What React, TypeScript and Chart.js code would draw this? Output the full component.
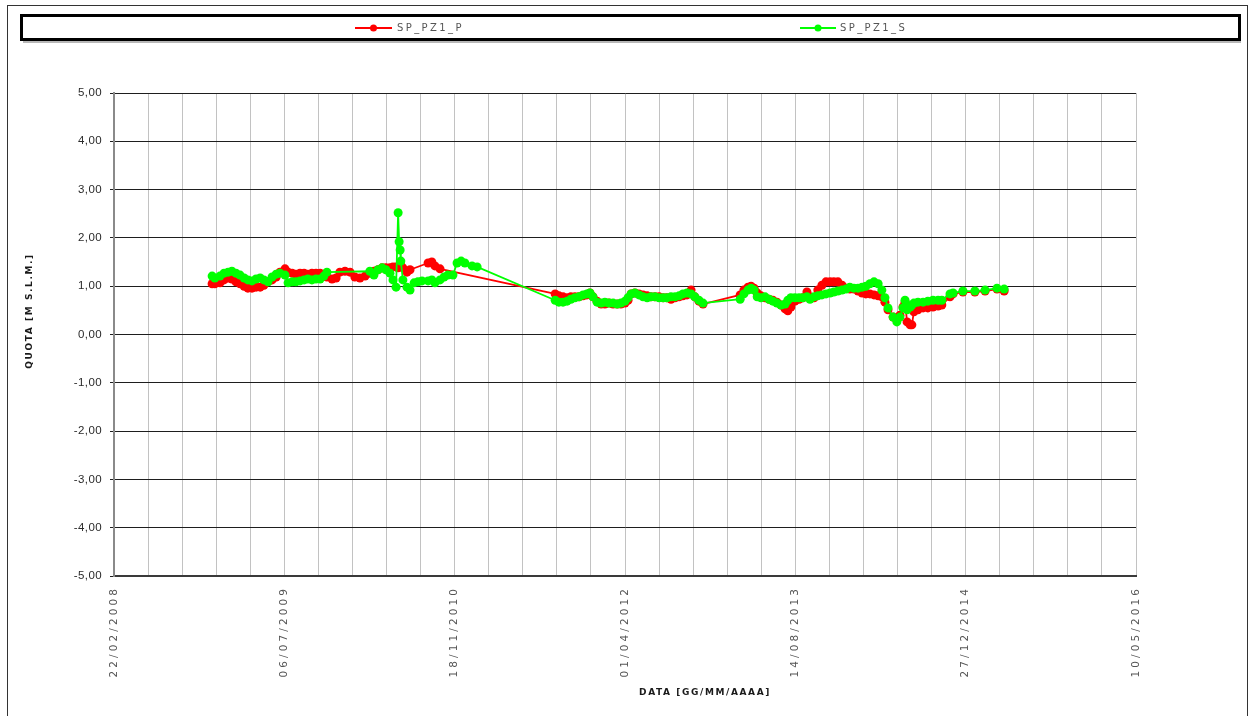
import React, { useEffect, useRef } from "react";
import { Chart, registerables } from "chart.js";

Chart.register(...registerables);

// ---------- DATA ----------
const dates: string[] = [
  // 2008 - 2011
  "2008-12-06","2008-12-14","2008-12-29","2009-01-10","2009-01-22","2009-02-02","2009-02-14","2009-02-26","2009-03-10","2009-03-21",
  "2009-04-02","2009-04-14","2009-04-26","2009-05-07","2009-05-19","2009-05-31","2009-06-12","2009-06-23","2009-07-08","2009-07-17",
  "2009-07-29","2009-08-09","2009-08-21","2009-09-02","2009-09-13","2009-09-25","2009-10-07","2009-10-19","2009-10-30","2009-11-08",
  "2009-11-23","2009-12-05","2009-12-16","2009-12-31","2010-01-15","2010-01-29","2010-02-13","2010-02-28","2010-03-14","2010-03-26",
  "2010-04-07","2010-04-19","2010-04-30","2010-05-12","2010-05-21","2010-05-30","2010-06-05","2010-06-08","2010-06-11","2010-06-13",
  "2010-06-19","2010-07-01","2010-07-10","2010-07-22","2010-08-02","2010-08-14","2010-09-01","2010-09-12","2010-09-21","2010-10-06",
  "2010-10-18","2010-10-29","2010-11-13","2010-11-25","2010-12-07","2010-12-18","2011-01-08","2011-01-23",
  // 2011 - 2012
  "2011-09-09","2011-09-20","2011-10-02","2011-10-14","2011-10-25","2011-11-06","2011-11-18","2011-11-30","2011-12-11","2011-12-20",
  "2011-12-29","2012-01-10","2012-01-22","2012-02-02","2012-02-14","2012-02-26","2012-03-09","2012-03-20","2012-04-01","2012-04-10",
  "2012-04-19","2012-04-30","2012-05-12","2012-05-24","2012-06-05","2012-06-16","2012-06-28","2012-07-10","2012-07-22","2012-08-02",
  "2012-08-14","2012-08-26","2012-09-07","2012-09-18","2012-09-30","2012-10-12","2012-10-23","2012-11-04","2012-11-16",
  // 2013 - 2015
  "2013-03-05","2013-03-16","2013-03-28","2013-04-06","2013-04-15","2013-04-24","2013-05-05","2013-05-17","2013-05-29","2013-06-09",
  "2013-06-21","2013-07-03","2013-07-15","2013-07-23","2013-08-01","2013-08-13","2013-08-25","2013-09-05","2013-09-17","2013-09-26",
  "2013-10-08","2013-10-19","2013-10-31","2013-11-12","2013-11-24","2013-12-05","2013-12-17","2013-12-29","2014-01-10","2014-01-21",
  "2014-02-02","2014-02-14","2014-02-26","2014-03-09","2014-03-21","2014-04-02","2014-04-14","2014-04-25","2014-05-04","2014-05-13",
  "2014-05-28","2014-06-08","2014-06-17","2014-06-26","2014-07-02","2014-07-08","2014-07-17","2014-07-22","2014-07-28","2014-08-09",
  "2014-08-24","2014-09-07","2014-09-22","2014-10-07","2014-10-18","2014-11-11","2014-11-20","2014-12-19","2015-01-23","2015-02-22",
  "2015-03-29","2015-04-19",
];

const spPz1P: (number | null)[] = [
  1.05,1.05,1.07,1.13,1.17,1.15,1.09,1.05,1.00,0.96,
  0.96,0.98,0.98,1.02,1.09,1.13,1.19,1.29,1.36,1.29,
  1.27,1.25,1.27,1.27,1.25,1.27,1.27,1.27,1.25,1.19,
  1.15,1.17,1.29,1.31,1.29,1.19,1.17,1.21,1.27,1.31,
  1.34,1.38,1.38,1.38,1.40,1.40,1.38,1.42,1.44,1.42,
  1.38,1.29,1.34,null,null,null,1.48,1.50,1.42,1.36,
  null,null,null,null,null,null,null,null,
  0.84,0.80,0.78,0.76,0.78,0.78,0.78,0.80,0.82,0.86,
  0.78,0.69,0.63,0.63,0.65,0.63,0.63,0.63,0.65,0.71,
  0.84,0.86,0.84,0.82,0.80,0.78,0.78,0.78,0.76,0.76,
  0.73,0.76,0.78,0.80,0.82,0.92,0.78,0.69,0.63,
  0.82,0.92,0.98,1.00,0.96,0.86,0.80,0.76,0.73,0.71,
  0.67,0.61,0.53,0.49,0.57,0.69,0.73,0.76,0.88,0.78,
  0.76,0.92,1.02,1.09,1.09,1.09,1.09,1.02,0.96,0.94,
  0.94,0.90,0.86,0.84,0.84,0.82,0.80,0.78,0.67,0.51,
  0.36,0.30,0.40,0.57,0.67,0.26,0.20,0.20,0.47,0.51,
  0.55,0.55,0.57,0.59,0.61,0.78,0.84,0.88,0.88,0.90,
  0.94,0.90,
];

const spPz1S: (number | null)[] = [
  1.21,1.17,1.21,1.27,1.29,1.31,1.27,1.23,1.17,1.13,
  1.11,1.15,1.17,1.13,1.09,1.19,1.25,1.27,1.23,1.07,
  1.09,1.09,1.11,1.13,1.15,1.13,1.15,1.15,1.21,1.29,
  null,null,null,null,null,null,null,null,1.31,1.23,
  1.34,1.38,1.34,1.27,1.13,0.98,2.52,1.92,1.75,1.52,
  1.13,0.98,0.92,1.07,1.09,1.11,1.11,1.13,1.07,1.13,
  1.19,1.23,1.23,1.48,1.52,1.48,1.42,1.40,
  0.71,0.67,0.67,0.69,0.73,0.76,0.78,0.82,0.84,0.86,
  0.78,0.67,0.65,0.67,0.65,0.65,0.63,0.65,0.69,0.76,
  0.84,0.86,0.82,0.78,0.76,0.78,0.78,0.76,0.76,0.76,
  0.78,0.78,0.80,0.84,0.86,0.84,0.78,0.71,0.65,
  0.73,0.84,0.92,0.96,0.92,0.78,0.76,0.78,0.73,0.69,
  0.65,0.61,0.63,0.71,0.76,0.76,0.76,0.76,0.78,0.73,
  0.78,0.80,0.82,0.84,0.86,0.88,0.90,0.92,0.94,0.98,
  0.96,0.96,0.98,1.00,1.05,1.09,1.05,0.92,0.76,0.55,
  0.36,0.26,0.36,0.55,0.71,0.51,0.57,0.61,0.65,0.67,
  0.67,0.69,0.71,0.71,0.71,0.84,0.86,0.90,0.90,0.92,
  0.96,0.94,
];

const seriesNames = ["SP_PZ1_P", "SP_PZ1_S"];
const seriesColors = ["#ff0000", "#00ff00"];
const xTickLabels = ["22/02/2008", "06/07/2009", "18/11/2010", "01/04/2012", "14/08/2013", "27/12/2014", "10/05/2016"];
const xAxisTitle = "DATA [GG/MM/AAAA]";
const yAxisTitle = "QUOTA [M S.L.M.]";
const X_START = "2008-02-22";
const X_END = "2016-05-10";
const X_STEP_DAYS = 100;
const Y_MIN = -5;
const Y_MAX = 5;
const Y_STEP = 1;

// ---------- helpers ----------
const DAY_MS = 86400000;
const dayOf = (iso: string) => (Date.parse(iso) - Date.parse(X_START)) / DAY_MS;
const dayOfDMY = (s: string) => {
  const [d, m, y] = s.split("/");
  return dayOf(`${y}-${m}-${d}`);
};

type TxtOpt = { font: string; color: string; align?: CanvasTextAlign; baseline?: CanvasTextBaseline; rot?: number; spacing?: string };
function txt(ctx: CanvasRenderingContext2D, s: string, x: number, y: number, o: TxtOpt) {
  ctx.save();
  ctx.translate(x, y);
  if (o.rot) ctx.rotate(o.rot);
  ctx.font = o.font;
  ctx.fillStyle = o.color;
  ctx.textAlign = o.align || "left";
  ctx.textBaseline = o.baseline || "middle";
  (ctx as any).letterSpacing = o.spacing || "0px";
  ctx.fillText(s, 0, 0);
  ctx.restore();
}

const decorPlugin = {
  id: "decor",
  beforeDraw(chart: any) {
    const ctx: CanvasRenderingContext2D = chart.ctx;
    ctx.save();
    ctx.fillStyle = "#ffffff";
    ctx.fillRect(0, 0, chart.width, chart.height);
    // outer frame
    ctx.strokeStyle = "#333333";
    ctx.lineWidth = 1;
    ctx.strokeRect(7.5, 5.5, 1240, 800);
    // legend box shadow + box
    ctx.fillStyle = "#b8b8b8";
    ctx.fillRect(23, 41, 1218, 2);
    ctx.lineWidth = 3;
    ctx.strokeStyle = "#000000";
    ctx.strokeRect(21.5, 15.5, 1218, 24);
    ctx.restore();
  },
  afterDraw(chart: any) {
    const ctx: CanvasRenderingContext2D = chart.ctx;
    const area = chart.chartArea;
    const xs = chart.scales.x;
    const ys = chart.scales.y;
    // y tick labels
    ys.ticks.forEach((t: any) => {
      const label = Number(t.value).toFixed(2).replace(".", ",");
      txt(ctx, label, area.left - 12, ys.getPixelForValue(t.value), {
        font: '11.5px "Liberation Sans"', color: "#2a2a2a", align: "right", spacing: "0.4px",
      });
    });
    // x tick labels (rotated)
    xTickLabels.forEach((lab) => {
      const px = xs.getPixelForValue(dayOfDMY(lab));
      txt(ctx, lab, px, area.bottom + 10, {
        font: '10.5px "DejaVu Sans"', color: "#555555", align: "right", rot: -Math.PI / 2, spacing: "3.1px",
      });
    });
    // axis titles
    txt(ctx, yAxisTitle, 30, 311, { font: 'bold 9px "DejaVu Sans"', color: "#1a1a1a", align: "center", rot: -Math.PI / 2, spacing: "1.6px" });
    txt(ctx, xAxisTitle, 705, 693, { font: 'bold 9px "DejaVu Sans"', color: "#1a1a1a", align: "center", spacing: "1.6px" });
    // legend
    const items = [
      { x1: 355, x2: 392, tx: 397 },
      { x1: 800, x2: 836, tx: 840 },
    ];
    items.forEach((it, i) => {
      const yy = 28;
      ctx.save();
      ctx.strokeStyle = seriesColors[i];
      ctx.lineWidth = 2;
      ctx.beginPath();
      ctx.moveTo(it.x1, yy);
      ctx.lineTo(it.x2, yy);
      ctx.stroke();
      ctx.fillStyle = seriesColors[i];
      ctx.beginPath();
      ctx.arc((it.x1 + it.x2) / 2, yy, 3.5, 0, Math.PI * 2);
      ctx.fill();
      ctx.restore();
      txt(ctx, seriesNames[i], it.tx, yy, { font: '10px "DejaVu Sans"', color: "#555555", spacing: "2.4px" });
    });
  },
};

export default function App() {
  const canvasRef = useRef<HTMLCanvasElement | null>(null);

  useEffect(() => {
    if (!canvasRef.current) return;
    const xs = dates.map(dayOf);
    const mk = (vals: (number | null)[]) => vals.map((v, i) => ({ x: xs[i], y: v }));
    const chart = new Chart(canvasRef.current, {
      type: "line",
      data: {
        datasets: [
          {
            label: seriesNames[0],
            data: mk(spPz1P) as any,
            borderColor: seriesColors[0],
            backgroundColor: seriesColors[0],
            borderWidth: 1.8,
            pointRadius: 4.5,
            pointBorderWidth: 0,
            pointHoverRadius: 4.5,
            spanGaps: true,
            tension: 0,
            order: 2,
          },
          {
            label: seriesNames[1],
            data: mk(spPz1S) as any,
            borderColor: seriesColors[1],
            backgroundColor: seriesColors[1],
            borderWidth: 1.8,
            pointRadius: 4.5,
            pointBorderWidth: 0,
            pointHoverRadius: 4.5,
            spanGaps: true,
            tension: 0,
            order: 1,
          },
        ],
      },
      options: {
        responsive: true,
        maintainAspectRatio: false,
        animation: false,
        events: [],
        layout: { padding: { left: 114, right: 119, top: 93, bottom: 140 } },
        plugins: { legend: { display: false }, tooltip: { enabled: false } },
        scales: {
          x: {
            type: "linear",
            min: 0,
            max: dayOf(X_END),
            ticks: { display: false, stepSize: X_STEP_DAYS },
            grid: { color: "#c2c2c2", lineWidth: 1, drawTicks: false },
            border: { display: true, color: "#3a3a3a", width: 2 },
            afterFit: (s: any) => { s.height = 0; },
          },
          y: {
            type: "linear",
            min: Y_MIN,
            max: Y_MAX,
            ticks: { display: false, stepSize: Y_STEP },
            grid: { color: "#1e1e1e", lineWidth: 1, drawTicks: true, tickLength: 4 },
            border: { display: true, color: "#8a8a8a", width: 2 },
            afterFit: (s: any) => { s.width = 0; },
          },
        },
      } as any,
      plugins: [decorPlugin],
    });
    return () => chart.destroy();
  }, []);

  return (
    <div style={{ position: "fixed", left: 0, top: 0, width: 1255, height: 716, background: "#fff" }}>
      <canvas ref={canvasRef} />
    </div>
  );
}
